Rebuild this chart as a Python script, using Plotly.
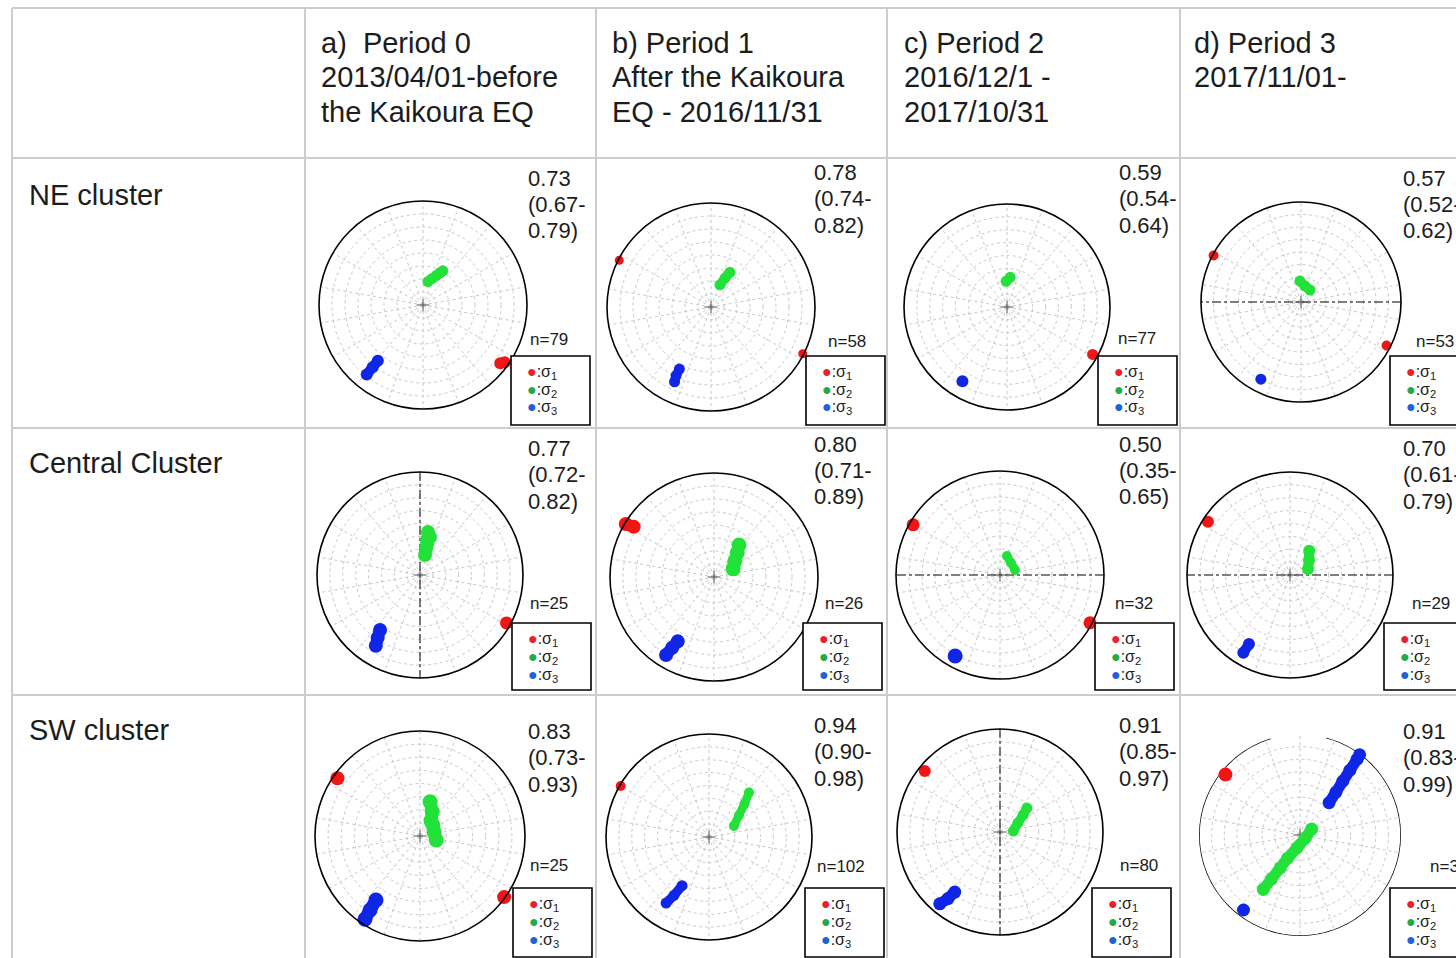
import numpy as np
import plotly.graph_objects as go

W, H = 1456, 958

# ---------------- data ----------------
ROW_LABELS = ["NE cluster", "Central Cluster", "SW cluster"]
COL_HEADERS = [
    ["a)  Period 0", "2013/04/01-before", "the Kaikoura EQ"],
    ["b) Period 1", "After the Kaikoura", "EQ - 2016/11/31"],
    ["c) Period 2", "2016/12/1 -", "2017/10/31"],
    ["d) Period 3", "2017/11/01-"],
]
RATIO_BEST = [[0.73, 0.78, 0.59, 0.57], [0.77, 0.80, 0.50, 0.70], [0.83, 0.94, 0.91, 0.91]]
RATIO_LOW = [[0.67, 0.74, 0.54, 0.52], [0.72, 0.71, 0.35, 0.61], [0.73, 0.90, 0.85, 0.83]]
RATIO_HIGH = [[0.79, 0.82, 0.64, 0.62], [0.82, 0.89, 0.65, 0.79], [0.93, 0.98, 0.97, 0.99]]
N_EVENTS = [[79, 58, 77, 53], [25, 26, 32, 29], [25, 102, 80, 35]]

# stress-axis clusters, panels in row-major order (NE a-d, Central a-d, SW a-d)
# azimuth: degrees clockwise from north; r: distance from centre / primitive radius
# (None separates two distinct spots of the same axis)
S1_AZ = [[127, 125], [297, None, 117], [119], [298, None, 117],
         [119], [301, 302], [300, None, 118], [303],
         [305, None, 126], [300], [309], [309]]
S1_R = [[0.93, 0.96], [0.99, None, 0.99], [0.95], [0.99, None, 0.96],
        [0.96], [0.99, 0.91], [0.965, None, 0.98], [0.95],
        [0.96, None, 0.99], [0.99], [0.94], [0.95]]
S2_AZ = [[12, 19, 24, 28, 30], [22, 26, 28.5], [358, 6], [357, 14, 37],
         [10.5, 11.3, 12.5, 14, 14.7], [38, 44, 53, 67], [20, 42.5, 71.6], [38.4, 51.7, 71.6],
         [16.4, 26.6, 35.5, 50, 74, 104], [66, 54, 47, 42], [86, 63, 53.5, 48.4],
         [214, 213, 211, 208, 193, 121, 63]]
S2_R = [[0.23, 0.27, 0.31, 0.35, 0.38], [0.23, 0.31, 0.38], [0.25, 0.29], [0.21, 0.165, 0.15],
        [0.425, 0.347, 0.269, 0.20, 0.38], [0.39, 0.32, 0.25, 0.20], [0.195, 0.157, 0.152], [0.30, 0.235, 0.184],
        [0.34, 0.26, 0.18, 0.16, 0.14, 0.16], [0.265, 0.36, 0.47, 0.58], [0.13, 0.195, 0.28, 0.35],
        [0.65, 0.52, 0.38, 0.26, 0.13, 0.06, 0.13]]
S3_AZ = [[219, 219, 219], [206, 207, 207], [211], [207.5],
         [216, 214, 212], [211.6, 210.6, 209.4], [209], [211, 210.7],
         [213.5, 214, 214.5], [213, 211, 209], [220, 218, 217],
         [42, 40, 38.5, 37.6, 37, 36.6, None, 217]]
S3_R = [[0.86, 0.77, 0.69], [0.80, 0.74, 0.67], [0.84], [0.87],
        [0.66, 0.735, 0.81], [0.88, 0.79, 0.71], [0.89], [0.88, 0.78],
        [0.95, 0.85, 0.74], [0.765, 0.66, 0.54], [0.91, 0.82, 0.73],
        [0.43, 0.555, 0.68, 0.81, 0.94, 0.99, None, 0.93]]

# ---------------- layout / style ----------------
PANEL_GEOM = [(423, 305, 104), (711, 307, 104), (1007, 307, 103), (1301, 302, 100),
              (420, 575, 103), (714, 577, 104), (1000, 575, 104), (1290, 575, 103),
              (420, 836, 105), (709, 837, 103), (1000, 832, 103), (1300, 835, 101)]
SIZE_S1 = [12, 9, 11, 10, 13, 14, 13, 12, 14, 10, 12, 14]
SIZE_S2 = [11, 11, 11, 11, 14, 15, 10, 12, 15, 10, 11, 13]
SIZE_S3 = [12, 11, 12, 11, 14, 14, 15, 12, 15, 11, 13, 13]
AXIS_LINE = [None, None, None, 90, 0, None, 90, 90, None, None, 0, None]
RATIO_X = [526, 812, 1117, 1401]
RATIO_Y0 = [178, 172, 172, 178, 448, 444, 444, 448, 731, 725, 725, 731]
N_POS = [(528, 339), (826, 341), (1116, 338), (1414, 341),
         (528, 603), (823, 603), (1113, 603), (1410, 603),
         (528, 865), (815, 866), (1118, 865), (1428, 866)]
LEG_X = [511, 806, 1098, 1390, 512, 803, 1095, 1384, 513, 805, 1092, 1390]
LEG_TOP = [356, 623, 888]
LEG_H = [69, 67, 69]
LEG_W = 79

C1, C2, C3 = "#f01616", "#22e23a", "#1026e6"
L1, L2, L3 = "#e8202a", "#23a84a", "#2060d8"
TXT = "#1c1c1c"
FONT = "Liberation Sans, Arial, sans-serif"
GRIDC = "#c8c8c8"


def px(x):
    return x / W


def py(y):
    return 1 - y / H


fig = go.Figure()
layout = dict(width=W, height=H, margin=dict(l=0, r=0, t=0, b=0),
              paper_bgcolor="white", showlegend=False)
shapes = []
annotations = []

# table lines
LINEC = "#cccccc"
for yv in [8, 158, 428, 695]:
    shapes.append(dict(type="line", xref="paper", yref="paper", x0=px(12), x1=1.0,
                       y0=py(yv), y1=py(yv), line=dict(color=LINEC, width=2), layer="below"))
for xv in [12, 305, 596, 887, 1180]:
    shapes.append(dict(type="line", xref="paper", yref="paper", x0=px(xv), x1=px(xv),
                       y0=py(8), y1=0.0, line=dict(color=LINEC, width=2), layer="below"))

# headers
HEAD_X = [319, 610, 902, 1192]
HEAD_Y = [43, 77, 112]
for c, lines in enumerate(COL_HEADERS):
    for k, t in enumerate(lines):
        annotations.append(dict(text=t, x=px(HEAD_X[c]), y=py(HEAD_Y[k]), xref="paper", yref="paper",
                                xanchor="left", yanchor="middle", showarrow=False,
                                font=dict(family=FONT, size=29, color=TXT)))
ROW_Y = [195, 463, 730]
for r, t in enumerate(ROW_LABELS):
    annotations.append(dict(text=t, x=px(27), y=py(ROW_Y[r]), xref="paper", yref="paper",
                            xanchor="left", yanchor="middle", showarrow=False,
                            font=dict(family=FONT, size=29, color=TXT)))

for i in range(12):
    row, col = divmod(i, 4)
    cx, cy, R = PANEL_GEOM[i]
    pname = "polar" if i == 0 else f"polar{i + 1}"
    sub = pname
    gap = (i == 11)
    layout[pname] = dict(
        domain=dict(x=[px(cx - R), px(cx + R)], y=[py(cy + R), py(cy - R)]),
        bgcolor="rgba(0,0,0,0)",
        radialaxis=dict(range=[0, 1], showticklabels=False, ticks="", showline=False,
                        tickvals=[k / 8 for k in range(1, 8)], gridcolor=GRIDC, griddash="dot",
                        gridwidth=1),
        angularaxis=dict(rotation=90, direction="clockwise", showticklabels=False, ticks="",
                         dtick=20, gridcolor=GRIDC, griddash="dot", gridwidth=1,
                         showline=not gap, linecolor="black", linewidth=1.6),
    )
    if gap:
        th = np.arange(15, 344, 1)
        fig.add_trace(go.Scatterpolar(r=np.ones_like(th), theta=th, mode="lines", subplot=sub,
                                      line=dict(color="black", width=1.6), hoverinfo="skip",
                                      cliponaxis=False))
    if AXIS_LINE[i] is not None:
        a = AXIS_LINE[i]
        fig.add_trace(go.Scatterpolar(r=[1, 1], theta=[a, a + 180], mode="lines", subplot=sub,
                                      line=dict(color="black", width=1, dash="dashdot"),
                                      hoverinfo="skip"))
    # centre mark
    fig.add_trace(go.Scatterpolar(r=[0], theta=[0], mode="markers", subplot=sub,
                                  marker=dict(symbol="cross-thin", size=9,
                                              line=dict(color="#555", width=1)),
                                  hoverinfo="skip"))
    for az, rr, col_, sz in [(S2_AZ[i], S2_R[i], C2, SIZE_S2[i]),
                             (S3_AZ[i], S3_R[i], C3, SIZE_S3[i]),
                             (S1_AZ[i], S1_R[i], C1, SIZE_S1[i])]:
        fig.add_trace(go.Scatterpolar(r=rr, theta=az, mode="lines+markers", subplot=sub,
                                      cliponaxis=False, connectgaps=False,
                                      line=dict(color=col_, width=sz * 0.85),
                                      marker=dict(color=col_, size=sz, line=dict(width=0))))

    # ratio text
    rtexts = [f"{RATIO_BEST[row][col]:.2f}", f"({RATIO_LOW[row][col]:.2f}-",
              f"{RATIO_HIGH[row][col]:.2f})"]
    for k, t in enumerate(rtexts):
        annotations.append(dict(text=t, x=px(RATIO_X[col]), y=py(RATIO_Y0[i] + 26.5 * k),
                                xref="paper", yref="paper", xanchor="left", yanchor="middle",
                                showarrow=False, font=dict(family=FONT, size=22, color=TXT)))
    nx, ny = N_POS[i]
    annotations.append(dict(text=f"n={N_EVENTS[row][col]}", x=px(nx), y=py(ny), xref="paper",
                            yref="paper", xanchor="left", yanchor="middle", showarrow=False,
                            font=dict(family=FONT, size=17, color=TXT)))
    # legend box
    lx, lt, lh = LEG_X[i], LEG_TOP[row], LEG_H[row]
    shapes.append(dict(type="rect", xref="paper", yref="paper", x0=px(lx), x1=px(lx + LEG_W),
                       y0=py(lt + lh), y1=py(lt), line=dict(color="black", width=1.6),
                       fillcolor="white", layer="above"))
    for k, (lc, idx) in enumerate([(L1, 1), (L2, 2), (L3, 3)]):
        annotations.append(dict(
            text=f'<span style="color:{lc}">●</span>:σ<sub>{idx}</sub>',
            x=px(lx + 14), y=py(lt + 16 + 18 * k), xref="paper", yref="paper",
            xanchor="left", yanchor="middle", showarrow=False,
            font=dict(family=FONT, size=16, color=TXT)))

layout["shapes"] = shapes
layout["annotations"] = annotations
fig.update_layout(**layout)
fig.write_html("out.html", config={"displayModeBar": False},
               post_script="document.body.style.margin='0';document.body.style.overflow='hidden';")
